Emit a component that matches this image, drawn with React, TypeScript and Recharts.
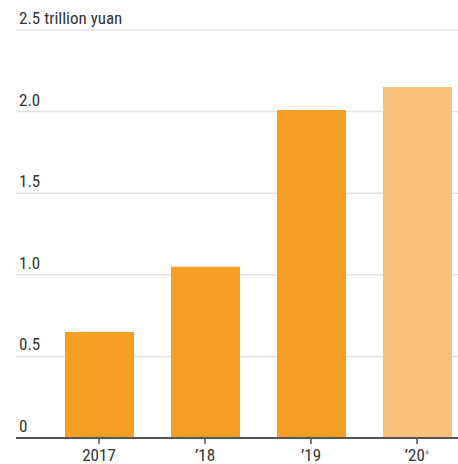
import { BarChart, Bar, XAxis, YAxis, CartesianGrid, Cell } from "recharts";

const years = ["2017", "’18", "’19", "’20"];
const values = [0.65, 1.05, 2.01, 2.15];
const estimated = [false, false, false, true];
const yTicks = [0, 0.5, 1, 1.5, 2, 2.5];
const yLabels = ["0", "0.5", "1.0", "1.5", "2.0", "2.5 trillion yuan"];

const FONT = "'Liberation Sans Narrow', 'Roboto Condensed', Roboto, sans-serif";
const TEXT = "#333333";

const data = years.map((year, i) => ({ year, value: values[i], estimate: estimated[i] }));

const renderYTick = (props: any) => {
    const { y, payload } = props;
    const idx = yTicks.indexOf(payload.value);
    return (
        <text x={19} y={y - 6} fill={TEXT} fontSize={17} fontFamily={FONT} textAnchor="start">
            {yLabels[idx]}
        </text>
    );
};

const renderXTick = (props: any) => {
    const { x, y, payload, index } = props;
    return (
        <text x={x} y={y} dy="0.71em" fill={TEXT} fontSize={17} fontFamily={FONT} textAnchor="middle">
            {payload.value}
            {estimated[index] ? (
                <tspan fontSize={10} fill="#888" dy="-0.3em">*</tspan>
            ) : null}
        </text>
    );
};

export default function App() {
    return (
        <div
            style={{
                position: "absolute",
                left: 0,
                top: 0,
                width: 458,
                height: 464,
                overflow: "hidden",
                background: "#fff",
            }}
        >
            <BarChart
                width={480}
                height={464}
                data={data}
                margin={{ top: 30, right: 10, bottom: 0, left: 15 }}
                barSize={69}
            >
                <CartesianGrid vertical={false} stroke="#e3e3e3" strokeWidth={1.5} />
                <YAxis
                    domain={[0, 2.5]}
                    ticks={yTicks}
                    width={1}
                    axisLine={false}
                    tickLine={false}
                    tick={renderYTick}
                    interval={0}
                />
                <XAxis
                    dataKey="year"
                    height={26}
                    padding={{ left: 30, right: 0 }}
                    axisLine={{ stroke: "#555", strokeWidth: 2 }}
                    tickLine={{ stroke: "#555", strokeWidth: 1.5 }}
                    tickSize={6}
                    tickMargin={5}
                    tick={renderXTick}
                    interval={0}
                />
                <Bar dataKey="value" isAnimationActive={false}>
                    {data.map((d, i) => (
                        <Cell key={`cell-${i}`} fill={d.estimate ? "#f9c17b" : "#f5a025"} />
                    ))}
                </Bar>
            </BarChart>
        </div>
    );
}
